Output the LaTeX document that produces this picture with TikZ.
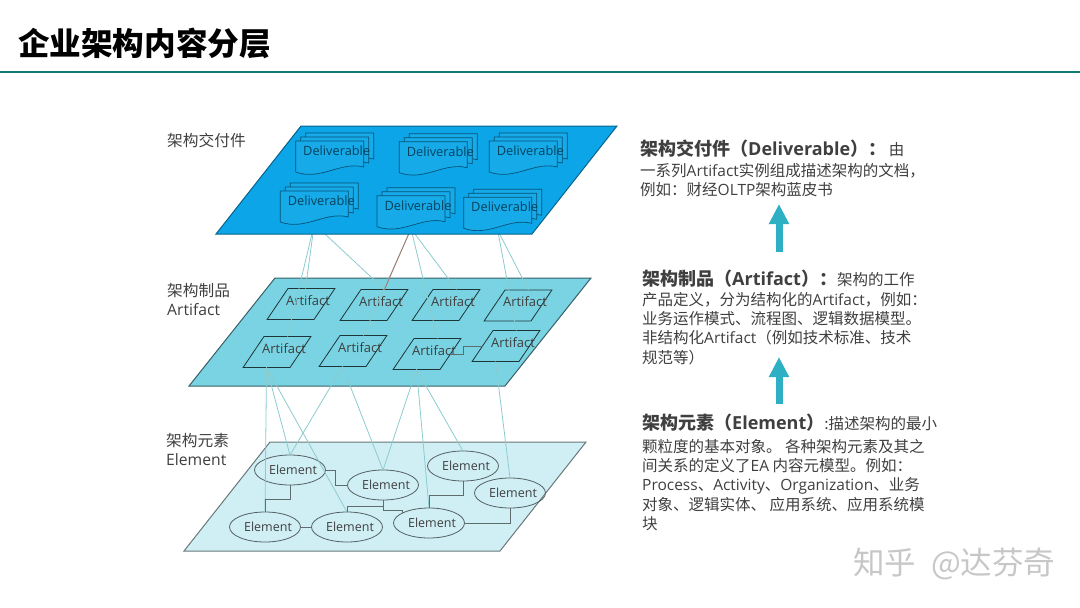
\documentclass[tikz,border=0pt]{standalone}
\usepackage{fontspec}
\setmainfont{Noto Sans CJK SC}
\newfontfamily\latfont{Open Sans}
\usetikzlibrary{shapes.geometric,arrows.meta}
\pgfdeclarelayer{planes}
\pgfdeclarelayer{front}
\pgfsetlayers{planes,main,front}
\newcommand{\lat}[1]{{\latfont #1}}
\definecolor{titleline}{HTML}{127B78}
\definecolor{bodygray}{HTML}{3F3F3F}
\definecolor{planeA}{HTML}{0BA5E8}
\definecolor{planeB}{HTML}{7AD3E2}
\definecolor{planeC}{HTML}{D0EFF5}
\definecolor{wire}{HTML}{8CCBCE}
\definecolor{wirered}{HTML}{A87468}
\definecolor{upblue}{HTML}{2EB0C4}
\tikzset{
	plane/.style={line width=1pt},
	docsheet/.style={draw=planeA!50!black,fill=planeA!95!white,line width=.7pt},
	docbox/.style={minimum width=68pt,minimum height=33pt,inner sep=0pt,outer sep=0pt,
		label={[xshift=7pt,yshift=7pt,text=planeA!40!black,font=\latfont\fontsize{12.8}{14}\selectfont]center:Deliverable}},
	artbox/.style={draw=black!75!planeB,line width=.8pt,trapezium,trapezium left angle=56,trapezium right angle=124,
		text width=26pt,text height=31pt,text depth=0pt,inner sep=0pt,outer sep=0pt,
		label={[xshift=7pt,yshift=3.5pt,text=bodygray,font=\latfont\fontsize{13}{14}\selectfont]center:Artifact}},
	elembox/.style={draw=black!60!planeC,line width=.8pt,ellipse,minimum width=71pt,minimum height=30pt,inner sep=0pt,outer sep=0pt,
		label={[xshift=3pt,text=bodygray,font=\latfont\fontsize{12.5}{14}\selectfont]center:Element}},
	wirelink/.style={draw=wire,line width=.8pt},
	elemlink/.style={draw=black!55!planeC,line width=.8pt},
	sidelabel/.style={anchor=west,align=left,inner sep=0pt,text=bodygray,font=\fontsize{15.7}{19}\selectfont},
	para/.style={anchor=north west,align=left,inner sep=0pt,text=bodygray,font=\fontsize{15.5}{19.3}\selectfont},
	uparrow/.style={draw=upblue,line width=7pt,-{Triangle[width=19pt,length=20pt]}},
}
\newcommand{\headtxt}[1]{{\fontsize{18}{19.3}\selectfont\bfseries #1}}
\begin{document}
\begin{tikzpicture}[x=1pt,y=-1pt]
	\useasboundingbox(0,0)rectangle(1080,608);
	\node[anchor=west,inner sep=0pt,font=\fontsize{31.6}{36}\selectfont\bfseries](title)at(18,43){企业架构内容分层};
	\draw[titleline,line width=2.5pt](0,72)--(1080,72);
	\begin{pgfonlayer}{planes}
		\draw[plane,fill=planeB,draw=black!55!planeB](275,278)--(591,278)--(505,386)--(189,386)--cycle;
		\draw[plane,fill=planeC,draw=black!50!planeC](270,442)--(586,442)--(500,551)--(184,551)--cycle;
	\end{pgfonlayer}
	\begin{pgfonlayer}{front}
		\draw[plane,fill=planeA,draw=planeA!60!black](301,126)--(617,126)--(532,234)--(216,234)--cycle;
		\foreach \n/\x/\y in {1/295.7/141,2/399.3/141.7,3/489.3/141,4/280.3/191,5/377/195.7,6/463.7/197.3}{
			\foreach \o in {2,1,0}{
				\begin{scope}[shift={(\x+\o*5,\y-\o*4)}]
					\draw[docsheet](0,0)--(68,0)--(68,26).. controls (45,20) and (25,40) ..(0,31)--cycle;
				\end{scope}
			}
			\node[docbox](d\n)at(\x+34,\y+16.5){};
		}
	\end{pgfonlayer}
	\foreach \n/\x/\y in {1/301/304,2/374/305,3/446/305,4/518/305.5,5/277/352,6/353/351,7/427/354,8/506/346}{
		\node[artbox](a\n)at(\x,\y){};
	}
	\foreach \n/\x/\y in {1/290/470,2/383/485,3/463/466,4/510/493,5/265/527,6/347/527,7/429/523}{
		\node[elembox](e\n)at(\x,\y){};
	}
	\foreach \d/\a in {4/a5,4/a2,5/a6,5/a7,5/a3,6/a8,6/a4}{
		\draw[wirelink](d\d.south)--(\a.top side);
	}
	\draw[wirelink](d4.south)--([xshift=-6pt]a1.top side);
	\draw[wirered,line width=.8pt](d5.south)--(a2.top side);
	\foreach \a/\e in {a5/e5,a5/e1,a5/e6,a6/e1,a6/e2,a7/e2,a7/e7,a7/e3,a8/e4}{
		\draw[wirelink](\a.bottom side)--(\e.north);
	}
	\draw[elemlink](a7.right side)--++(13,0)|-(a8.left side);
	\draw[elemlink](e1.east)--++(10,0)|-(e2.west);
	\draw[elemlink](e1.south)--++(0,14)-|(e5.north);
	\draw[elemlink](e3.south)--++(0,14)-|(e7.north);
	\draw[elemlink](e2.south)--++(0,10)-|(e7.160);
	\draw[elemlink](e2.south)--++(0,6)-|(e6.north);
	\draw[elemlink](e5.east)--(e6.west);
	\draw[elemlink](e7.east)-|(e4.south);
	\node[sidelabel](lab1)at(167,140){架构交付件};
	\node[sidelabel](lab2)at(167,299.5){架构制品\\\lat{Artifact}};
	\node[sidelabel](lab3)at(166,449.5){架构元素\\\lat{Element}};
	\node[para](p1)at(640,139.3){\headtxt{架构交付件（\lat{Deliverable}）：}\,由\\[2pt]
		一系列\lat{Artifact}实例组成描述架构的文档，\\
		例如：财经\lat{OLTP}架构蓝皮书};
	\node[para](p2)at(642,269.3){\headtxt{架构制品（\lat{Artifact}）：}架构的工作\\[1pt]
		产品定义，分为结构化的\lat{Artifact}，例如：\\
		业务运作模式、流程图、逻辑数据模型。\\
		非结构化\lat{Artifact}（例如技术标准、技术\\
		规范等）};
	\node[para](p3)at(642,413.3){\headtxt{架构元素（\lat{Element}）}:描述架构的最小\\[4pt]
		颗粒度的基本对象。 各种架构元素及其之\\
		间关系的定义了\lat{EA} 内容元模型。例如：\\
		\lat{Process}、\lat{Activity}、\lat{Organization}、业务\\
		对象、逻辑实体、 应用系统、应用系统模\\
		块};
	\coordinate(up1)at(779,252);
	\coordinate(up1t)at(779,204);
	\coordinate(up2)at(779,404);
	\coordinate(up2t)at(779,357);
	\draw[uparrow](up1)--(up1t);
	\draw[uparrow](up2)--(up2t);
	\node[anchor=west,inner sep=0pt,text=black!22,font=\fontsize{31.5}{36}\selectfont](mark)at(853,564){知乎\hspace{15pt}@达芬奇};
\end{tikzpicture}
\end{document}
